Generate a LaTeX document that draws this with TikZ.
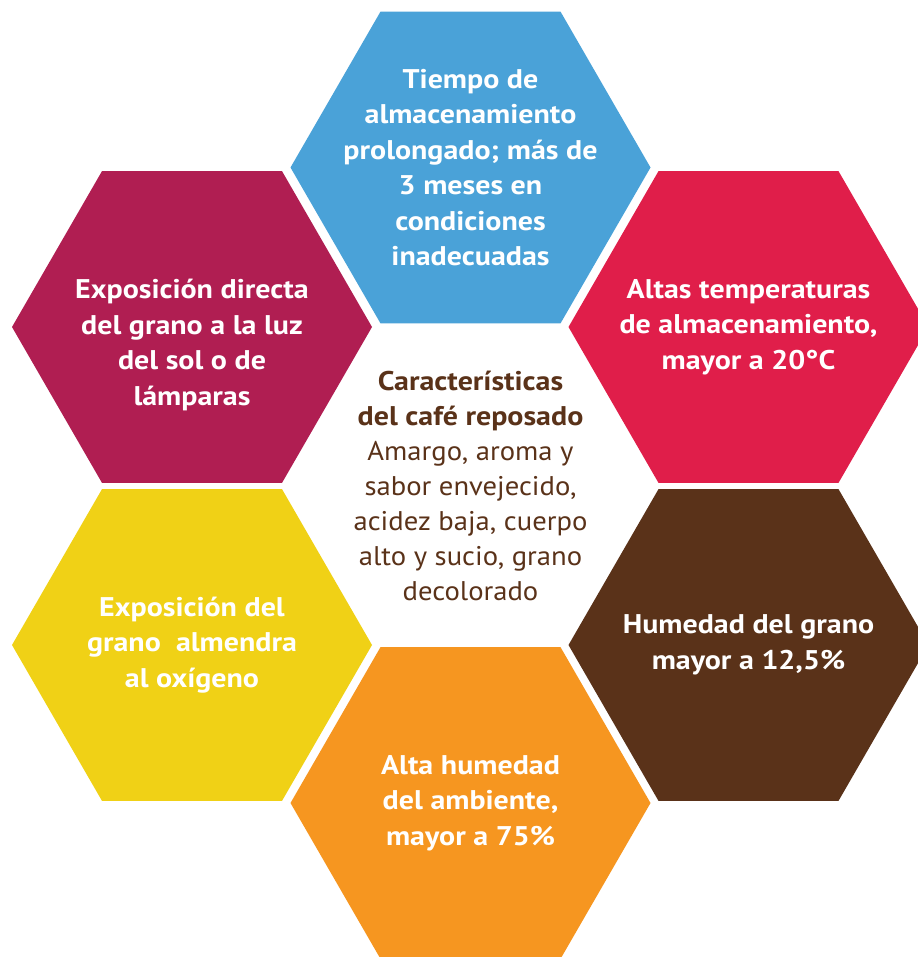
\documentclass[tikz,border=0pt]{standalone}
\usepackage{fontspec}
\setmainfont{PT Sans}
\newfontfamily\hexbold{PT Sans Bold}[FakeStretch=1.11]
\newfontfamily\hexreg{PT Sans}[FakeStretch=1.06]
\usetikzlibrary{shapes.geometric}
\definecolor{cblue}{RGB}{74,162,216}
\definecolor{cmag}{RGB}{176,30,82}
\definecolor{cred}{RGB}{224,30,74}
\definecolor{cbrown}{RGB}{90,50,25}
\definecolor{cyel}{RGB}{240,209,22}
\definecolor{corange}{RGB}{246,150,32}
\begin{document}
\begin{tikzpicture}[x=1pt,y=-1pt,
  hexa/.style={regular polygon, regular polygon sides=6, minimum size=360pt, inner sep=0pt, outer sep=0pt, draw=none},
  htext/.style={text=white, align=center, font=\fontsize{27}{35.4}\hexbold, inner sep=0pt},
  ctext/.style={text=cbrown, align=center, font=\fontsize{27}{35}\hexreg, inner sep=0pt}]
\useasboundingbox[fill=white] (0,0) rectangle (917,957);
\node[hexa, fill=cblue] (hT) at (470.5,167.5) {};
\node[hexa, fill=cmag] (hTL) at (192,327) {};
\node[hexa, fill=cred] (hTR) at (748.5,327) {};
\node[hexa, fill=cyel] (hBL) at (192,645) {};
\node[hexa, fill=cbrown] (hBR) at (748.5,645) {};
\node[hexa, fill=corange] (hB) at (470.5,803) {};
\node[htext] (tT) at (hT.center) {Tiempo de\\almacenamiento\\prolongado; más de\\3 meses en\\condiciones\\inadecuadas};
\node[htext] (tTL) at ([yshift=-18pt]hTL.center) {Exposición directa\\del grano a la luz\\del sol o de\\lámparas};
\node[htext] (tTR) at (hTR.center) {Altas temperaturas\\de almacenamiento,\\mayor a 20°C};
\node[htext] (tBL) at (hBL.center) {Exposición del\\grano\ \ almendra\\al oxígeno};
\node[htext] (tBR) at (hBR.center) {Humedad del grano\\mayor a 12,5\%};
\node[htext] (tB) at (hB.center) {Alta humedad\\del ambiente,\\mayor a 75\%};
\node[ctext] (center) at (470.5,486) {{\hexbold Características}\\{\hexbold del café reposado}\\Amargo, aroma y\\sabor envejecido,\\acidez baja, cuerpo\\alto y sucio, grano\\decolorado};
\end{tikzpicture}
\end{document}
